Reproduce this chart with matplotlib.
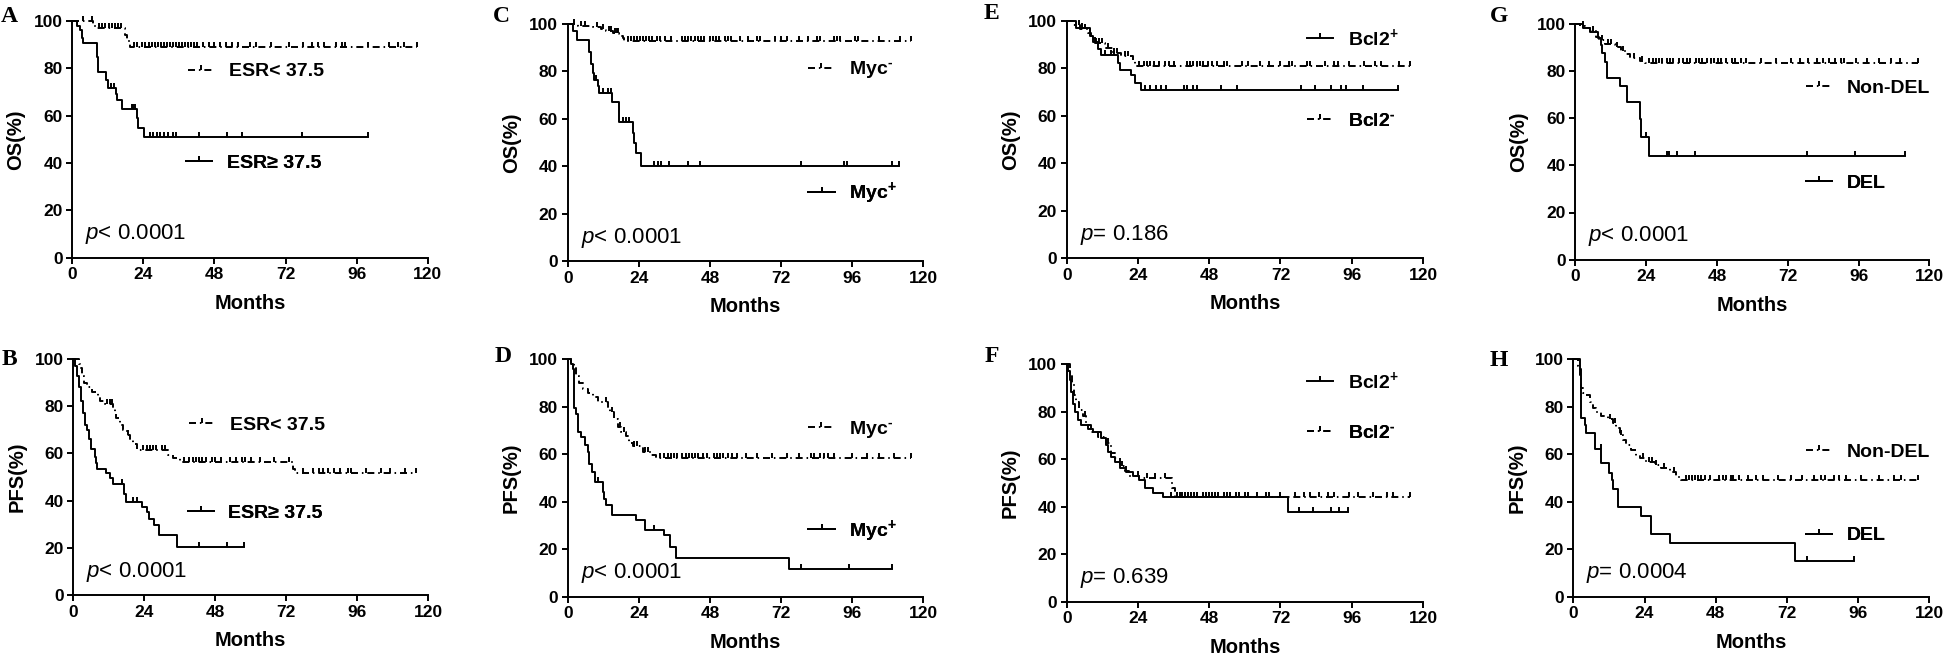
import numpy as np
import matplotlib
matplotlib.use("Agg")
import matplotlib.pyplot as plt
from matplotlib.lines import Line2D

plt.rcParams['font.family'] = ['Liberation Sans', 'DejaVu Sans']
plt.rcParams['mathtext.fontset'] = 'custom'
plt.rcParams['mathtext.rm'] = 'Liberation Sans:bold'
plt.rcParams['mathtext.it'] = 'Liberation Sans:italic'
plt.rcParams['mathtext.bf'] = 'Liberation Sans:bold'

# ---------------- data (months, survival %) ----------------
# A: OS by ESR
a_hi_t = [1.7, 2.6, 3.2, 3.7, 8.2, 8.8, 11.4, 11.9, 14.7, 15.2, 16.9, 22.0, 22.3, 24.2]
a_hi_s = [98, 96, 93, 90.5, 85, 78.5, 75, 71.5, 69, 66.5, 63, 59, 55, 51]
a_hi_end = 100
a_hi_cens = [13.2, 14.0, 20.0, 20.6, 21.2, 26.2, 27.4, 28.5, 29.6, 31.0, 32.4, 33.9, 34.9,
             42.8, 52.1, 57.4, 77.5, 100]
a_lo_t = [7.0, 7.6, 17.8, 18.4, 19.6]
a_lo_s = [98.5, 97, 94, 91.5, 89.2]
a_lo_end = 116.3
a_lo_cens = [3.7, 6.5, 9, 10, 11, 12.5, 13.5, 14.5, 15.5, 16.5, 21, 22, 23.5, 24.5, 26, 27, 28,
             29, 30, 31, 32, 33, 34, 35, 36, 37, 38, 39, 40, 41, 42, 44, 46, 48, 50, 52, 54, 56,
             60, 62, 67, 73, 78, 81, 83, 85, 89, 91, 92, 100, 107, 110, 112, 116.3]

# B: PFS by ESR
b_hi_t = [0.6, 1.4, 2.0, 2.6, 3.4, 4.1, 4.7, 5.4, 6.1, 7.3, 7.7, 8.1, 11.0, 12.4, 13.5, 17.1,
          17.8, 23.1, 24.8, 25.7, 27.3, 29.1, 35.2]
b_hi_s = [97, 93, 88, 82, 77, 72, 70, 66, 62, 58.5, 56, 53.5, 51.5, 49.5, 47, 43, 39.5, 37.5,
          35, 32, 29.5, 25.5, 20.2]
b_hi_end = 57.7
b_hi_cens = [16.3, 20.3, 21.4, 42.6, 52.0, 57.7]
b_lo_t = [2.0, 2.3, 2.9, 3.6, 4.7, 6.2, 8.5, 9.0, 10.7, 13.5, 14.1, 14.6, 15.8, 16.9, 18.0,
          19.2, 20.3, 21.4, 32.1, 33.8, 36.0, 74.4, 75.0]
b_lo_s = [98, 96, 93, 90, 88, 86, 84, 82, 81, 79, 77, 75, 72, 70, 68, 66, 64, 61.5, 59.5, 58,
          56.5, 53.5, 51.5]
b_lo_end = 116
b_lo_cens = [11.5, 12.5, 13, 18.5, 23.5, 25, 26, 27, 28, 30, 31, 37.5, 39, 40.5, 41.5, 42.5,
             43.5, 45, 47, 48, 50, 53, 55, 57, 58, 60, 63, 68, 73, 77.5, 81, 83, 84.5, 86, 88,
             90, 93, 94, 99, 104, 107, 112, 116]

# C: OS by Myc
c_pos_t = [1.9, 3.0, 7.3, 7.9, 8.4, 9.0, 10.1, 10.7, 15.0, 17.4, 21.9, 22.5, 23.1, 24.7]
c_pos_s = [97, 93.3, 88.3, 83, 79.2, 76.5, 74, 70.7, 66.9, 58.6, 53.9, 50, 45.4, 40.2]
c_pos_end = 111.7
c_pos_cens = [9.6, 12.0, 13.5, 14.6, 18.5, 19.6, 20.7, 29.2, 30.6, 31.5, 34.3, 40.7, 44.6,
              78.7, 93.3, 94.2, 109.4, 111.7]
c_neg_t = [3.5, 8.4, 11.2, 12.9, 15.2, 17.4, 18.5, 19.1]
c_neg_s = [99.3, 98.8, 98, 97, 96, 95, 94, 92.7]
c_neg_end = 115.8
c_neg_cens = [2, 4.5, 6, 10, 12, 14, 14.5, 16, 16.5, 17, 20.5, 21.5, 22.5, 23.5, 24.5, 25.5,
              26.5, 27.5, 28.5, 30, 31, 33, 35, 38.5, 39.5, 40.5, 41.5, 43, 44, 45, 46, 48, 49,
              50, 51, 53, 54, 55, 58, 61, 64, 65, 70, 72, 74, 78, 81, 84, 85, 90, 91, 92, 97,
              98, 105, 112, 115.8]

# D: PFS by Myc
d_pos_t = [1.1, 1.7, 2.0, 2.2, 2.8, 3.4, 4.5, 6.0, 6.7, 7.3, 8.2, 9.3, 11.8, 12.4, 12.9, 15.0,
           23.1, 26.2, 32.6, 34.5, 36.5, 74.8]
d_pos_s = [98, 96, 90, 79.5, 76.8, 69.5, 67.4, 64, 61, 55.8, 52.5, 48.5, 44.2, 41, 38.6, 34.4,
           32.3, 28.1, 25.8, 20.9, 16.3, 11.7]
d_pos_end = 109.4
d_pos_cens = [10.3, 29.2, 78.7, 94.8, 109.4]
d_neg_t = [1.1, 2.2, 2.8, 3.9, 5.0, 6.7, 8.4, 10.1, 13.5, 14.3, 15.7, 16.9, 18.0, 19.7, 20.8,
           21.9, 25.3, 28.1, 29.8]
d_neg_s = [98.5, 96.9, 93, 90, 87.5, 85.7, 84, 82, 80, 78, 75, 71.6, 69.5, 67.5, 64.6, 63.4,
           61, 59.7, 58.3]
d_neg_end = 115.8
d_neg_cens = [13.0, 15.0, 17.5, 19, 22.5, 23.5, 26, 27, 31, 32.5, 34, 35, 36, 37, 38.5, 40,
              41, 42, 43, 44, 45.5, 47, 49.5, 50.5, 51.5, 52.5, 54, 55.5, 57, 60, 64, 69, 74,
              78, 82, 83, 85, 86.5, 88, 90, 96, 101, 105, 110, 115.8]

# E: OS by Bcl2
e_pos_t = [3.3, 7.7, 8.8, 10.5, 11.6, 17.3, 17.8, 21.8, 22.9, 25.1]
e_pos_s = [96.8, 93.5, 91.2, 88, 85.6, 82, 79.2, 77, 73.9, 70.8]
e_pos_end = 111.6
e_pos_cens = [5, 9.5, 13, 15, 16, 26.3, 28.2, 30, 31.7, 33.4, 39.4, 40.5, 42.7, 43.8, 52.1,
              57.2, 79.0, 83.5, 89.1, 92.5, 94.2, 99.8, 111.6]
e_neg_t = [2.2, 4.5, 7.2, 8.3, 9.4, 12.8, 15.6, 18.4, 22.3, 22.9]
e_neg_s = [98, 96.5, 95, 92.1, 90.7, 88.4, 86.5, 85.1, 83, 81]
e_neg_end = 115.7
e_neg_cens = [4, 6, 8, 10, 11, 12, 14, 16, 17, 19.5, 20.5, 24.5, 26, 27, 28, 29.5, 31, 33,
              34.5, 36, 40.5, 41.5, 42.5, 44, 45, 46, 47.5, 49, 50.5, 53, 54, 59, 61, 65, 68,
              72, 75, 76, 81, 82, 87, 90, 91.5, 95, 100, 104, 106, 112, 115.7]

# F: PFS by Bcl2
f_pos_t = [0.4, 1.0, 1.6, 2.1, 2.7, 3.8, 4.9, 7.2, 8.9, 11.7, 13.4, 14.0, 15.0, 16.2, 17.8,
           20.1, 22.3, 24.5, 26.3, 29.1, 32.4, 74.5]
f_pos_s = [97, 93.3, 88.4, 83.3, 79.9, 76.4, 74.3, 72.6, 71.2, 68.7, 66, 63.1, 61, 58.9, 56.1,
           54.7, 53, 51, 48, 45.6, 43.9, 37.6]
f_pos_end = 94.7
f_pos_cens = [24.0, 35, 37, 39, 41, 43, 46, 48, 50, 54, 58, 61, 67, 78.4, 83, 89, 91.7, 94.7]
f_neg_t = [1.0, 1.7, 2.4, 3.3, 4.2, 5.5, 6.6, 8.3, 10.5, 13.3, 15.0, 16.2, 17.8, 19.5, 21.1,
           24.5, 35.3, 36.6]
f_neg_s = [96, 91.9, 87, 83.9, 80.6, 78, 74.3, 71.5, 69.4, 66.6, 62.4, 60.3, 57, 55, 53, 52,
           48, 43.9]
f_neg_end = 115.7
f_neg_cens = [6, 14, 18.5, 20, 27, 29.6, 33.0, 38, 40, 42, 44, 47, 49, 51, 53, 55, 57, 60,
              64, 68, 72, 77, 80, 82, 85, 88, 90, 95, 98, 103, 108, 110, 115.7]

# G: OS by DEL
g_del_t = [2.6, 4.9, 7.7, 8.6, 9.0, 10.2, 10.8, 15.0, 17.6, 21.8, 22.4, 24.9]
g_del_s = [98, 96.6, 93.8, 91, 87.4, 83.9, 77.1, 73.7, 67, 59.6, 52, 43.9]
g_del_end = 111.6
g_del_cens = [24.0, 31.0, 31.8, 34.5, 40.7, 78.6, 94.7, 111.6]
g_non_t = [1.5, 3.2, 4.9, 7.1, 8.2, 9.9, 13.3, 15.6, 17.3, 18.4, 21.8, 23.5]
g_non_s = [99, 98, 96.9, 94.5, 93, 91.2, 90, 88.5, 87, 85.3, 84.3, 83.5]
g_non_end = 116.2
g_non_cens = [2.5, 6, 9, 11, 12, 14, 16, 20, 22.5, 25, 26.5, 27.5, 28.5, 29.5, 31, 32, 33, 35,
              36.5, 38, 39, 41, 42, 43, 44.5, 46, 47, 48.5, 49.5, 51, 53, 54, 56, 58, 63, 68,
              73, 76, 79, 82, 84, 86, 88, 90, 91, 95, 99, 103, 107, 110, 116.2]

# H: PFS by DEL
h_del_t = [2.1, 2.5, 3.8, 4.4, 7.4, 9.4, 12.2, 13.0, 13.4, 15.0, 22.9, 26.3, 32.5, 74.8]
h_del_s = [96, 75.1, 72.3, 68.8, 62.2, 56.2, 52, 49, 45.4, 37.6, 34.1, 26.3, 22.6, 15]
h_del_end = 94.6
h_del_cens = [9.2, 78.9, 94.6]
h_non_t = [1.6, 2.1, 2.7, 3.2, 4.4, 5.5, 6.6, 7.7, 9.4, 11.7, 13.4, 14.5, 15.6, 16.7, 17.9,
           19.6, 21.3, 22.4, 24.6, 27.4, 29.7, 32.5, 34.7, 36.4]
h_non_s = [97, 93.4, 87.8, 86, 85, 81.9, 79.6, 78, 76.3, 74.7, 73, 70.9, 68.1, 66, 63.9, 61.8,
           59.4, 58.3, 56.9, 55.5, 54.1, 52.7, 50.6, 49.2]
h_non_end = 116.2
h_non_cens = [12.5, 14, 16, 23.5, 25.5, 26.5, 28, 30.5, 34, 38, 39, 40, 41, 42, 43, 44.5, 46,
              49, 50.5, 51.5, 53, 54, 56, 59, 61.5, 64, 69, 73.5, 77, 81, 83.5, 85, 88, 89.5,
              92, 97, 103, 108, 110.5, 116.2]

panel_letters = ["A", "B", "C", "D", "E", "F", "G", "H"]
y_labels = ["OS(%)", "PFS(%)"] * 4
p_values = ["< 0.0001", "< 0.0001", "< 0.0001", "< 0.0001", "= 0.186", "= 0.639",
            "< 0.0001", "= 0.0004"]
x_ticks = [0, 24, 48, 72, 96, 120]
y_ticks = [0, 20, 40, 60, 80, 100]

# ---------------- layout (pixels in the 1946x656 canvas) ----------------
W, H = 1946, 656
LW = 1.4
MS = 3.5
DASH = (0, (3.6, 2.0, 0.8, 2.0))
# (left, right, top, bottom) of each plot area
rects = [(72.3, 427.7, 21, 257.7), (73.3, 428.3, 359, 595),
         (567.7, 923.3, 24, 261), (567.7, 923.3, 359.3, 596.7),
         (1066.7, 1423, 20.7, 258.3), (1066.7, 1423, 364, 601.7),
         (1575.3, 1929.3, 23.7, 259.7), (1573.3, 1929.3, 359.3, 596.7)]
letter_pos = [(1, 21.7), (2, 365), (493, 21.7), (495, 362),
              (984, 19.3), (985, 362), (1490, 22), (1490, 365.7)]

SUP_M = r"$^{\text{-}}$"
SUP_P = r"$^{+}$"
panels = [
    dict(curves=[(a_lo_t, a_lo_s, a_lo_end, a_lo_cens, True), (a_hi_t, a_hi_s, a_hi_end, a_hi_cens, False)],
         keys=[("ESR< 37.5", True, 0.325, 0.786), ("ESR\u2265 37.5", False, 0.32, 0.40)]),
    dict(curves=[(b_lo_t, b_lo_s, b_lo_end, b_lo_cens, True), (b_hi_t, b_hi_s, b_hi_end, b_hi_cens, False)],
         keys=[("ESR< 37.5", True, 0.326, 0.72), ("ESR\u2265 37.5", False, 0.322, 0.346)]),
    dict(curves=[(c_neg_t, c_neg_s, c_neg_end, c_neg_cens, True), (c_pos_t, c_pos_s, c_pos_end, c_pos_cens, False)],
         keys=[("Myc" + SUP_M, True, 0.675, 0.806), ("Myc" + SUP_P, False, 0.677, 0.285)]),
    dict(curves=[(d_neg_t, d_neg_s, d_neg_end, d_neg_cens, True), (d_pos_t, d_pos_s, d_pos_end, d_pos_cens, False)],
         keys=[("Myc" + SUP_M, True, 0.675, 0.705), ("Myc" + SUP_P, False, 0.677, 0.277)]),
    dict(curves=[(e_neg_t, e_neg_s, e_neg_end, e_neg_cens, True), (e_pos_t, e_pos_s, e_pos_end, e_pos_cens, False)],
         keys=[("Bcl2" + SUP_P, False, 0.675, 0.926), ("Bcl2" + SUP_M, True, 0.675, 0.579)]),
    dict(curves=[(f_neg_t, f_neg_s, f_neg_end, f_neg_cens, True), (f_pos_t, f_pos_s, f_pos_end, f_pos_cens, False)],
         keys=[("Bcl2" + SUP_P, False, 0.675, 0.928), ("Bcl2" + SUP_M, True, 0.675, 0.711)]),
    dict(curves=[(g_non_t, g_non_s, g_non_end, g_non_cens, True), (g_del_t, g_del_s, g_del_end, g_del_cens, False)],
         keys=[("Non-DEL", True, 0.652, 0.726), ("DEL", False, 0.652, 0.323)]),
    dict(curves=[(h_non_t, h_non_s, h_non_end, h_non_cens, True), (h_del_t, h_del_s, h_del_end, h_del_cens, False)],
         keys=[("Non-DEL", True, 0.653, 0.608), ("DEL", False, 0.653, 0.257)]),
]


def km_curve(ax, t, s, end, cens, dashed):
    x = np.r_[0, t, end]
    y = np.r_[100, s, s[-1]]
    ls = DASH if dashed else "-"
    ax.step(x, y, where="post", color="k", lw=LW, ls=ls, clip_on=False, zorder=3)
    cx = np.asarray(cens, dtype=float)
    idx = np.clip(np.searchsorted(x, cx, side="right") - 1, 0, len(y) - 1)
    ax.plot(cx, y[idx], ls="none", marker=2, ms=MS, mew=LW, color="k", clip_on=False, zorder=3)


def add_key(ax, label, dashed, x, y):
    h = Line2D([], [], color="k", lw=LW, ls=DASH if dashed else "-", marker=2, ms=MS, mew=LW)
    leg = ax.legend([h], [label], loc="center left", bbox_to_anchor=(x, y),
                    bbox_transform=ax.transAxes, frameon=False, numpoints=1,
                    handlelength=1.35, handletextpad=0.75, borderpad=0, borderaxespad=0,
                    prop=dict(weight="bold", size=14))
    ax.add_artist(leg)


fig = plt.figure(figsize=(W / 100, H / 100), dpi=100)

for i, p in enumerate(panels):
    l, r, t, b = rects[i]
    ax = fig.add_axes([l / W, 1 - b / H, (r - l) / W, (b - t) / H])
    for c in p["curves"]:
        km_curve(ax, *c)
    for k in p["keys"]:
        add_key(ax, *k)

    ax.set_xlim(0, 120)
    ax.set_ylim(0, 100)
    ax.set_xticks(x_ticks)
    ax.set_yticks(y_ticks)
    for side in ("top", "right"):
        ax.spines[side].set_visible(False)
    for side in ("left", "bottom"):
        ax.spines[side].set_linewidth(LW)
    ax.tick_params(direction="out", length=4, width=LW, labelsize=12.5, pad=3)
    for lbl in ax.get_xticklabels() + ax.get_yticklabels():
        lbl.set_fontweight("bold")

    ax.set_xlabel("Months", fontsize=14.5, fontweight="bold")
    ax.set_ylabel(y_labels[i], fontsize=14.5, fontweight="bold")
    ax.xaxis.set_label_coords(0.5, -36 / (b - t))
    ax.yaxis.set_label_coords(-47 / (r - l), 0.5)

    ax.text(0.037, 0.078, r"$\mathit{p}$" + p_values[i], transform=ax.transAxes,
            fontsize=16, va="baseline", ha="left")

    lx, ly = letter_pos[i]
    fig.text(lx / W, 1 - ly / H, panel_letters[i], family="Liberation Serif",
             fontweight="bold", fontsize=17, ha="left", va="baseline")

fig.savefig("out.png", dpi=100)
